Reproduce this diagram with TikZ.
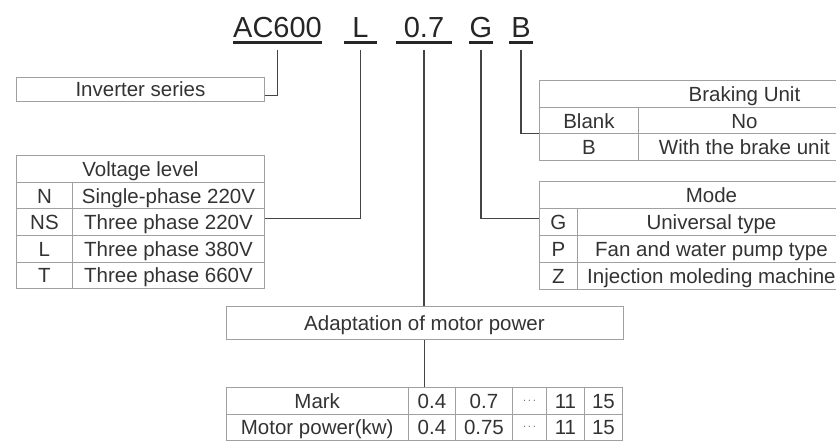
\documentclass[tikz,border=0pt]{standalone}
\usepackage{fontspec}
\setmainfont{Liberation Sans}
\usetikzlibrary{positioning}
\usepackage{xcolor}
\definecolor{txtgray}{HTML}{333333}
\definecolor{rulegray}{HTML}{A0A0A0}
\definecolor{linkgray}{HTML}{444444}

\begin{document}
\begin{tikzpicture}[x=1pt,y=-1pt]
\tikzstyle{cell} = [
	shape=rectangle,
	draw=rulegray, %light border of a table cell
	line width=0.9pt,
	text=txtgray,
	font=\fontsize{20.5}{24}\selectfont,
	inner sep=0pt,
	text height=14.7pt, %caps sit in the middle
	text depth=0pt,
	anchor=north west,
	minimum height=26.5pt
];
\tikzstyle{celltext} = [
	text=txtgray,
	font=\fontsize{20.5}{24}\selectfont,
	inner sep=0pt,
	text height=14.7pt,
	text depth=0pt
];
\tikzstyle{code} = [
	text=black!85,
	font=\fontsize{29}{34}\selectfont,
	inner sep=0pt,
	text depth=0pt,
	anchor=south
];
\tikzstyle{link} = [draw=linkgray, line width=1.2pt];
\tikzstyle{uline} = [draw=black!85, line width=3pt];

\clip (0,0) rectangle (836,441);

%model code
\node[code, minimum width=89pt](tAC) at (277.5,38) {AC600};
\node[code, minimum width=33pt](tV) at (360.5,38) {L};
\node[code, minimum width=56pt](tP) at (424,38) {0.7};
\node[code, minimum width=24pt](tM) at (481,38) {G};
\node[code, minimum width=24pt](tB) at (521,38) {B};

\draw[uline] ([yshift=-5pt]tAC.south west) -- ([yshift=-5pt]tAC.south east);
\draw[uline] ([yshift=-5pt]tV.south west) -- ([yshift=-5pt]tV.south east);
\draw[uline] ([yshift=-5pt]tP.south west) -- ([yshift=-5pt]tP.south east);
\draw[uline] ([yshift=-5pt]tM.south west) -- ([yshift=-5pt]tM.south east);
\draw[uline] ([yshift=-5pt]tB.south west) -- ([yshift=-5pt]tB.south east);

%series
\node[cell, minimum width=248pt, minimum height=24pt](inv) at (16,77) {Inverter series};

%voltage level
\node[cell, minimum width=248pt, minimum height=27pt](vHead) at (16,155) {Voltage level};
\node[cell, minimum width=56pt](vN) at (16,182) {N};
\node[cell, minimum width=192pt](vNt) at (72,182) {Single-phase 220V};
\node[cell, minimum width=56pt](vNS) at (16,208.5) {NS};
\node[cell, minimum width=192pt](vNSt) at (72,208.5) {Three phase 220V};
\node[cell, minimum width=56pt](vL) at (16,235) {L};
\node[cell, minimum width=192pt](vLt) at (72,235) {Three phase 380V};
\node[cell, minimum width=56pt](vT) at (16,261.5) {T};
\node[cell, minimum width=192pt](vTt) at (72,261.5) {Three phase 660V};

%braking unit
\node[cell, minimum width=311pt, minimum height=27pt](bHead) at (539,80) {};
\node[cell, minimum width=99pt](bBlank) at (539,107) {Blank};
\node[cell, minimum width=212pt](bNo) at (638,107) {No};
\node[cell, minimum width=99pt](bB) at (539,133.5) {B};
\node[cell, minimum width=212pt](bBt) at (638,133.5) {With the brake unit};
\node[celltext] at (bNo.center |- bHead.center) {Braking Unit};

%mode
\node[cell, minimum width=306pt, minimum height=27pt](mHead) at (539,181) {};
\node[cell, minimum width=38pt, minimum height=27pt](mG) at (539,208) {G};
\node[cell, minimum width=268pt, minimum height=27pt](mGt) at (577,208) {Universal type};
\node[cell, minimum width=38pt, minimum height=27pt](mP) at (539,235) {P};
\node[cell, minimum width=268pt, minimum height=27pt](mPt) at (577,235) {Fan and water pump type};
\node[cell, minimum width=38pt, minimum height=27pt](mZ) at (539,262) {Z};
\node[cell, minimum width=268pt, minimum height=27pt](mZt) at (577,262) {Injection moleding machine};
\node[celltext] at (mGt.center |- mHead.center) {Mode};

%motor power
\node[cell, minimum width=397pt, minimum height=33pt](adapt) at (225.5,306) {Adaptation of motor power};
\node[cell, minimum width=182.5pt](markHead) at (225.5,387) {Mark};
\node[cell, minimum width=47pt](mark04) at (408,387) {0.4};
\node[cell, minimum width=57pt](mark07) at (455,387) {0.7};
\node[cell, minimum width=34pt, text height=5pt](markDots) at (512,387) {\fontsize{11}{12}\selectfont$\cdots$};
\node[cell, minimum width=38pt](mark11) at (546,387) {11};
\node[cell, minimum width=38pt](mark15) at (584,387) {15};
\node[cell, minimum width=182.5pt](powHead) at (225.5,413.5) {Motor power(kw)};
\node[cell, minimum width=47pt](pow04) at (408,413.5) {0.4};
\node[cell, minimum width=57pt](pow075) at (455,413.5) {0.75};
\node[cell, minimum width=34pt, text height=5pt](powDots) at (512,413.5) {\fontsize{11}{12}\selectfont$\cdots$};
\node[cell, minimum width=38pt](pow11) at (546,413.5) {11};
\node[cell, minimum width=38pt](pow15) at (584,413.5) {15};

%leaders from the code
\draw[link] ([yshift=-12pt]tAC.south) |- ([yshift=-6pt]inv.east);
\draw[link] ([yshift=-12pt]tV.south) |- ([yshift=4pt]vNSt.east);
\draw[link] ([yshift=-12pt]tP.south) -- (tP.south |- adapt.north);
\draw[link] (adapt.south) -- (adapt.south |- markHead.north);
\draw[link] ([yshift=-12pt]tM.south) |- ([yshift=3.5pt]mG.west);
\draw[link] ([yshift=-12pt]tB.south) |- (bB.north west);

\end{tikzpicture}
\end{document}
